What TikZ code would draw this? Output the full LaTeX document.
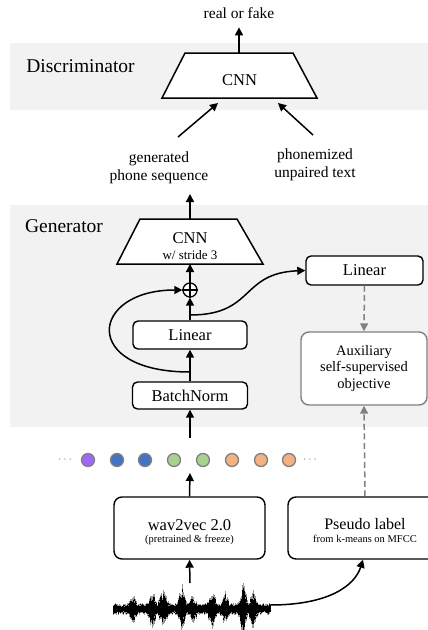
\documentclass[tikz,border=0pt]{standalone}
\usepackage{fontspec}
\setmainfont{Liberation Serif}
\usetikzlibrary{arrows.meta}
\definecolor{bandgray}{HTML}{F2F2F2}
\definecolor{midgray}{HTML}{808080}
\definecolor{dotpurple}{HTML}{A066F5}
\definecolor{dotblue}{HTML}{4472C4}
\definecolor{dotgreen}{HTML}{A9D18E}
\definecolor{dotorange}{HTML}{F4B183}
\newcommand{\myfs}[1]{\fontsize{#1}{#1}\selectfont}
\begin{document}
\begin{tikzpicture}[x=1pt,y=-1pt,
  box/.style={draw,line width=1.4pt,rounded corners=5pt,fill=white,inner sep=0pt},
  arr/.style={line width=1.5pt,-{Triangle[length=8pt,width=8pt]}},
  darr/.style={line width=1.5pt,draw=midgray,dash pattern=on 6pt off 3.5pt,-{Triangle[length=8pt,width=8pt,fill=midgray]}},
  lbl/.style={anchor=base,inner sep=0pt},
  dotc/.style={circle,draw=midgray,line width=1.3pt,minimum size=13pt,inner sep=0pt},
  trap/.style={line width=1.5pt,fill=white,line join=miter},
]
\useasboundingbox (0,0) rectangle (428,630);
\clip (0,0) rectangle (428,630);
% bands
\fill[bandgray] (10,43) rectangle (428,110);
\fill[bandgray] (10,205) rectangle (428,427);
\node[lbl,font=\myfs{19.5}] (dlab) at (80.5,72) {Discriminator};
\node[lbl,font=\myfs{19.5}] (glab) at (64,232) {Generator};

% discriminator
\draw[trap] (162,98) -- (185,53) -- (293,53) -- (317,98) -- cycle;
\coordinate (dtop) at (239,53);
\coordinate (dinl) at (218,103);
\coordinate (dinr) at (278,103);
\node[lbl,font=\myfs{16.5}] (dcnn) at (239.5,85) {CNN};
\node[lbl,font=\myfs{15.5}] (rf) at (239,18) {real or fake};
\draw[arr] (dtop) -- ([yshift=-9pt]rf.south);
\node[lbl,font=\myfs{15.5}] (gen1) at (159,162) {generated};
\node[lbl,font=\myfs{15.5}] (gen2) at (159,180) {phone sequence};
\node[lbl,font=\myfs{15.5}] (pho1) at (315,159) {phonemized};
\node[lbl,font=\myfs{15.5}] (pho2) at (315,177) {unpaired text};
\coordinate (gs) at (178,137);
\coordinate (ps) at (313,135);
\draw[arr] (gs) -- (dinl);
\draw[arr] (ps) -- (dinr);

% generator CNN
\draw[trap] (117,264) -- (140,219) -- (237,219) -- (263,264) -- cycle;
\coordinate (gtop) at (190,219);
\coordinate (gbot) at (190,264);
\coordinate (gout) at (190,194);
\node[lbl,font=\myfs{16.5}] (gcnn) at (190,243) {CNN};
\node[lbl,font=\myfs{13}] (gstr) at (190,259) {w/ stride 3};
\draw[arr] (gtop) -- (gout);

% oplus
\node[circle,draw,line width=1.3pt,minimum size=14pt,inner sep=0pt,fill=white] (op) at (190,290) {};
\draw[line width=1.2pt] (op.north) -- (op.south) (op.west) -- (op.east);
\draw[arr] (op) -- (gbot);

% linear, batchnorm
\node[box,minimum width=114pt,minimum height=28pt,font=\myfs{16.5}] (lin) at (190,335) {Linear};
\node[box,minimum width=115pt,minimum height=27pt,font=\myfs{16.5}] (bn) at (190,395.5) {BatchNorm};
\draw[arr] (lin.north) -- (op.south);
\draw[arr] (bn.north) -- (lin.south);
\coordinate (b1) at (190,372);
\coordinate (b2) at (190,315);
\draw[arr] (b1) .. controls (80,372) and (90,290) .. (op.west);

% right side
\node[box,minimum width=117pt,minimum height=29pt,font=\myfs{16.5}] (rlin) at (364.5,270.5) {Linear};
\draw[arr] (b2) .. controls (255,315) and (240,273) .. (rlin.west);
\node[box,draw=midgray,rounded corners=8pt,minimum width=126pt,minimum height=73pt,align=center,font=\fontsize{14.5}{16.5}\selectfont] (aux) at (364,368.5) {Auxiliary\\self-supervised\\objective};
\draw[darr] (rlin.south) -- (aux.north);

% dots
\node[font=\myfs{13},text=midgray] (ldots) at (65,460) {$\cdots$};
\node[dotc,fill=dotpurple] (d1) at (88,460) {};
\node[dotc,fill=dotblue] (d2) at (117,460) {};
\node[dotc,fill=dotblue] (d3) at (145,460) {};
\node[dotc,fill=dotgreen] (d4) at (174,460) {};
\node[dotc,fill=dotgreen] (d5) at (203,460) {};
\node[dotc,fill=dotorange] (d6) at (232,460) {};
\node[dotc,fill=dotorange] (d7) at (261,460) {};
\node[dotc,fill=dotorange] (d8) at (289,460) {};
\node[font=\myfs{13},text=midgray] (rdots) at (310,460) {$\cdots$};
\coordinate (dup) at (190,438);
\coordinate (ddown) at (190,473);
\draw[arr] (dup) -- (bn.south);

% wav2vec and pseudo label
\node[box,rounded corners=8pt,minimum width=151pt,minimum height=62pt] (w2v) at (189.5,528) {};
\node[lbl,font=\myfs{16.5}] (w2vt) at (189.5,530) {wav2vec 2.0};
\node[lbl,font=\myfs{10.5}] (w2vs) at (189.5,542.5) {(pretrained \& freeze)};
\node[box,rounded corners=8pt,minimum width=154pt,minimum height=62pt] (pl) at (365,528) {};
\node[lbl,font=\myfs{16}] (plt) at (365,529) {Pseudo label};
\node[lbl,font=\myfs{10.5}] (pls) at (365,542) {from k-means on MFCC};
\draw[arr] (w2v.north) -- (ddown);
\draw[darr] (pl.north) -- (aux.south);

% waveform
\pgfmathsetseed{42}
\foreach \i in {0,...,314}{
  \pgfmathsetmacro{\xx}{113+0.5*\i}
  \pgfmathsetmacro{\env}{6+9*max(0,1-abs(\xx-133)/5)+15*max(0,1-abs(\xx-152)/5)+15*max(0,1-abs(\xx-163)/6)+20*max(0,1-abs(\xx-182)/5)+10*max(0,1-abs(\xx-193)/5)+16*max(0,1-abs(\xx-212)/5)+13*max(0,1-abs(\xx-225)/5)+25*max(0,1-abs(\xx-243)/5)+15*max(0,1-abs(\xx-253)/5)}
  \pgfmathsetmacro{\up}{\env*(0.5+0.5*rnd)}
  \pgfmathsetmacro{\dn}{\env*(0.5+0.5*rnd)}
  \draw[line width=0.6pt,black!40] (\xx,609-\up) -- (\xx,609+\dn);
  \draw[line width=0.6pt,black] (\xx,609-0.8*\up) -- (\xx,609+0.8*\dn);
}
\coordinate (wtop) at (190,583);
\coordinate (wright) at (270,605);
\draw[arr] (wtop) -- (w2v.south);
\draw[arr] (wright) .. controls (330,605) and (355,585) .. ([xshift=-2pt]pl.south);
\end{tikzpicture}
\end{document}
